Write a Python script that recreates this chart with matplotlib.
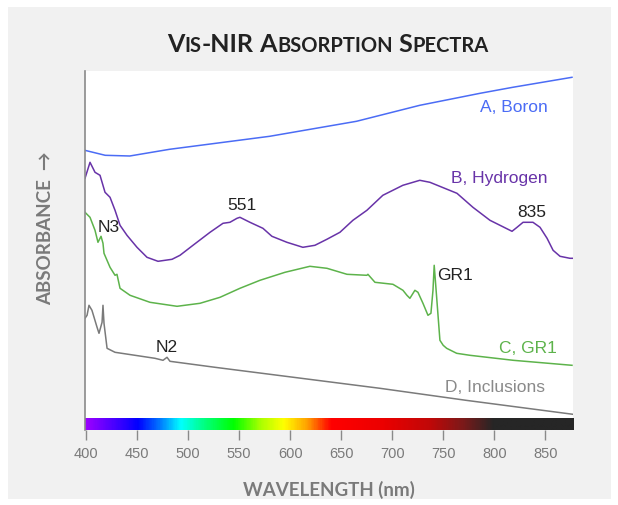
import numpy as np
import matplotlib
matplotlib.use("Agg")
import matplotlib.pyplot as plt
from matplotlib.colors import LinearSegmentedColormap
from matplotlib.patches import Rectangle

# ---------------- data (arbitrary absorbance units, offset per curve) -------------
wl_a = [399, 419, 443, 482, 580, 665, 727, 786, 818, 876]
abs_a = [280, 275, 274.3, 281, 294, 309, 325, 337, 343, 353]

wl_b = [399.2, 404.1, 409, 413.9, 418.8, 423.7, 428.6, 433.5, 440.3, 450.1, 459.9, 470.7,
        484.4, 492.2, 504.9, 521.6, 534.3, 541.1, 548, 550.9, 560.7, 573.4, 582.2, 596.9,
        612.5, 624.3, 636, 648.8, 661.5, 675.2, 690.8, 710.4, 727, 736.9, 763.4, 779,
        795.7, 817.3, 822.2, 828.1, 837.8, 844.7, 851.6, 857.5, 864.3, 874, 877]
abs_b = [252, 268, 258, 255, 238, 233, 220, 205, 195, 183, 173, 169,
         171, 175, 185, 198, 207, 208, 212, 213, 208, 202, 194, 188,
         183, 185, 191, 198, 210, 220, 235, 245, 250, 248, 237, 223,
         210, 199, 203, 208, 208, 203, 192, 180, 174, 172, 172]

wl_c = [399.2, 404.1, 409, 411.9, 414.9, 416.8, 417.8, 423.7, 428.6, 430.5, 433.5, 443.3,
        462.8, 489.3, 511.8, 531.4, 550.9, 570.5, 595, 619.4, 636.1, 655.7, 675.2, 676.2,
        683.1, 700.7, 710.5, 714.4, 717.3, 722.2, 725.2, 730.1, 735, 737.9, 739.9, 741.1,
        743.5, 746.7, 749.9, 753.3, 763.1, 776.1, 818.5, 876]
abs_c = [218, 213, 200, 188, 194, 187, 177, 163, 155, 156, 142, 135,
         128, 124, 127, 133, 142, 150, 158, 164, 162, 156, 155, 156,
         148, 146, 140, 135, 132, 140, 138, 127, 115, 117, 140, 165,
         133, 90, 85, 82, 77, 75, 70, 65]

wl_d = [399.2, 401.2, 403.1, 406, 411, 412.9, 415.9, 416.8, 417.8, 420.8, 428.6,
        467.7, 475.6, 479.5, 482.4, 526.5, 688, 772.2, 877]
abs_d = [112, 115, 125, 120, 103, 97, 108, 125, 107, 82, 78,
         72, 70, 73, 69, 63, 42, 30, 16]

xticks = [400, 450, 500, 550, 600, 650, 700, 750, 800, 850]
xlim = (399, 877)

# spectrum bar colour stops
spec_wl = [399, 405, 450, 470, 492, 515, 544, 570, 593, 616, 632, 640, 690, 737, 770, 799, 877]
spec_col = ["#9a00ff", "#8a00ff", "#0000ff", "#0070ff", "#00ffff", "#00ff80", "#00ff00",
            "#a8ff00", "#ffff00", "#ffa000", "#ff3000", "#ff0000", "#ec0000", "#c00808",
            "#7a1a1a", "#262626", "#262626"]

COL_A = "#4b6cf5"
COL_B = "#6833a8"
COL_C = "#5db34b"
COL_D = "#7a7a7a"
GRAY_TXT = "#7a7a7a"

# ---------------- figure ----------------
W, H = 618, 505
fig = plt.figure(figsize=(W / 100, H / 100), dpi=100, facecolor="white")
fig.patches.append(Rectangle((8 / W, 6 / H), (611 - 8) / W, (498 - 6) / H,
                             transform=fig.transFigure, facecolor="#f1f1f1",
                             edgecolor="none", zorder=-10))

left, right, top, bottom = 84.8, 573, 71, 430.3
ax = fig.add_axes([left / W, (H - bottom) / H, (right - left) / W, (bottom - top) / H])
ax.set_facecolor("white")
ax.set_xlim(*xlim)
ax.set_ylim(0, bottom - top)

lw = 1.1
ax.plot(wl_a, abs_a, color=COL_A, lw=lw)
ax.plot(wl_b, abs_b, color=COL_B, lw=lw)
ax.plot(wl_c, abs_c, color=COL_C, lw=lw)
ax.plot(wl_d, abs_d, color=COL_D, lw=lw)

# spectrum bar
frac = [(w - xlim[0]) / (xlim[1] - xlim[0]) for w in spec_wl]
cmap = LinearSegmentedColormap.from_list("spec", list(zip(frac, spec_col)))
grad = np.linspace(0, 1, 600)[None, :]
ax.imshow(grad, cmap=cmap, aspect="auto", extent=(xlim[0], xlim[1], 0, 11.3),
          zorder=1, interpolation="bilinear")

# labels on curves
lab_fs = 12.5
lab_font = "Liberation Sans"
ax.text(852.4, 323, "A, Boron", color=COL_A, fontsize=lab_fs, family=lab_font, ha="right", va="center")
ax.text(852.4, 252, "B, Hydrogen", color=COL_B, fontsize=lab_fs, family=lab_font, ha="right", va="center")
ax.text(861.2, 82, "C, GR1", color=COL_C, fontsize=lab_fs, family=lab_font, ha="right", va="center")
ax.text(849.5, 43, "D, Inclusions", color="#8a8a8a", fontsize=lab_fs, family=lab_font, ha="right", va="center")
ax.text(552.9, 225, "551", color="#222222", fontsize=lab_fs, family=lab_font, ha="center", va="center")
ax.text(836.8, 218, "835", color="#222222", fontsize=lab_fs, family=lab_font, ha="center", va="center")
ax.text(422.2, 203, "N3", color="#222222", fontsize=lab_fs, family=lab_font, ha="center", va="center")
ax.text(743.8, 155, "GR1", color="#222222", fontsize=lab_fs, family=lab_font, ha="left", va="center")
ax.text(479.5, 83, "N2", color="#222222", fontsize=lab_fs, family=lab_font, ha="center", va="center")

# axes styling
for s in ["top", "right", "bottom"]:
    ax.spines[s].set_visible(False)
ax.spines["left"].set_color("#8a8a8a")
ax.spines["left"].set_linewidth(1.2)
ax.set_yticks([])
ax.set_xticks(xticks)
ax.set_xticklabels([str(t) for t in xticks], fontsize=10.5, family="Liberation Sans", color=GRAY_TXT)
ax.tick_params(axis="x", length=7, width=1, color="#8a8a8a", pad=5)

ax.set_xlabel("WAVELENGTH (nm)", fontsize=13.5, family="Lato", fontweight="bold",
              color=GRAY_TXT, labelpad=14)
fig.text(45.5 / W, (H - 228) / H, "ABSORBANCE  \u2192", rotation=90, fontsize=13.5,
         family=["Lato", "DejaVu Sans"], fontweight="bold", color=GRAY_TXT,
         ha="center", va="center")

# small-caps title
pieces = [("V", True), ("IS", False), ("-NIR", True), (" A", True), ("BSORPTION", False),
          (" S", True), ("PECTRA", False)]
big, small = 18, 14.5
renderer = fig.canvas.get_renderer()
ty = (H - 52) / H
texts = []
for s, isbig in pieces:
    t = fig.text(0, ty, s, fontsize=big if isbig else small, family="Lato", fontweight="bold",
                 color="#222222", ha="left", va="baseline")
    texts.append(t)
widths = [t.get_window_extent(renderer).width for t in texts]
x = 328 - sum(widths) / 2
for t, w in zip(texts, widths):
    t.set_x(x / W)
    x += w

fig.savefig("out.png", dpi=100, facecolor="white")
